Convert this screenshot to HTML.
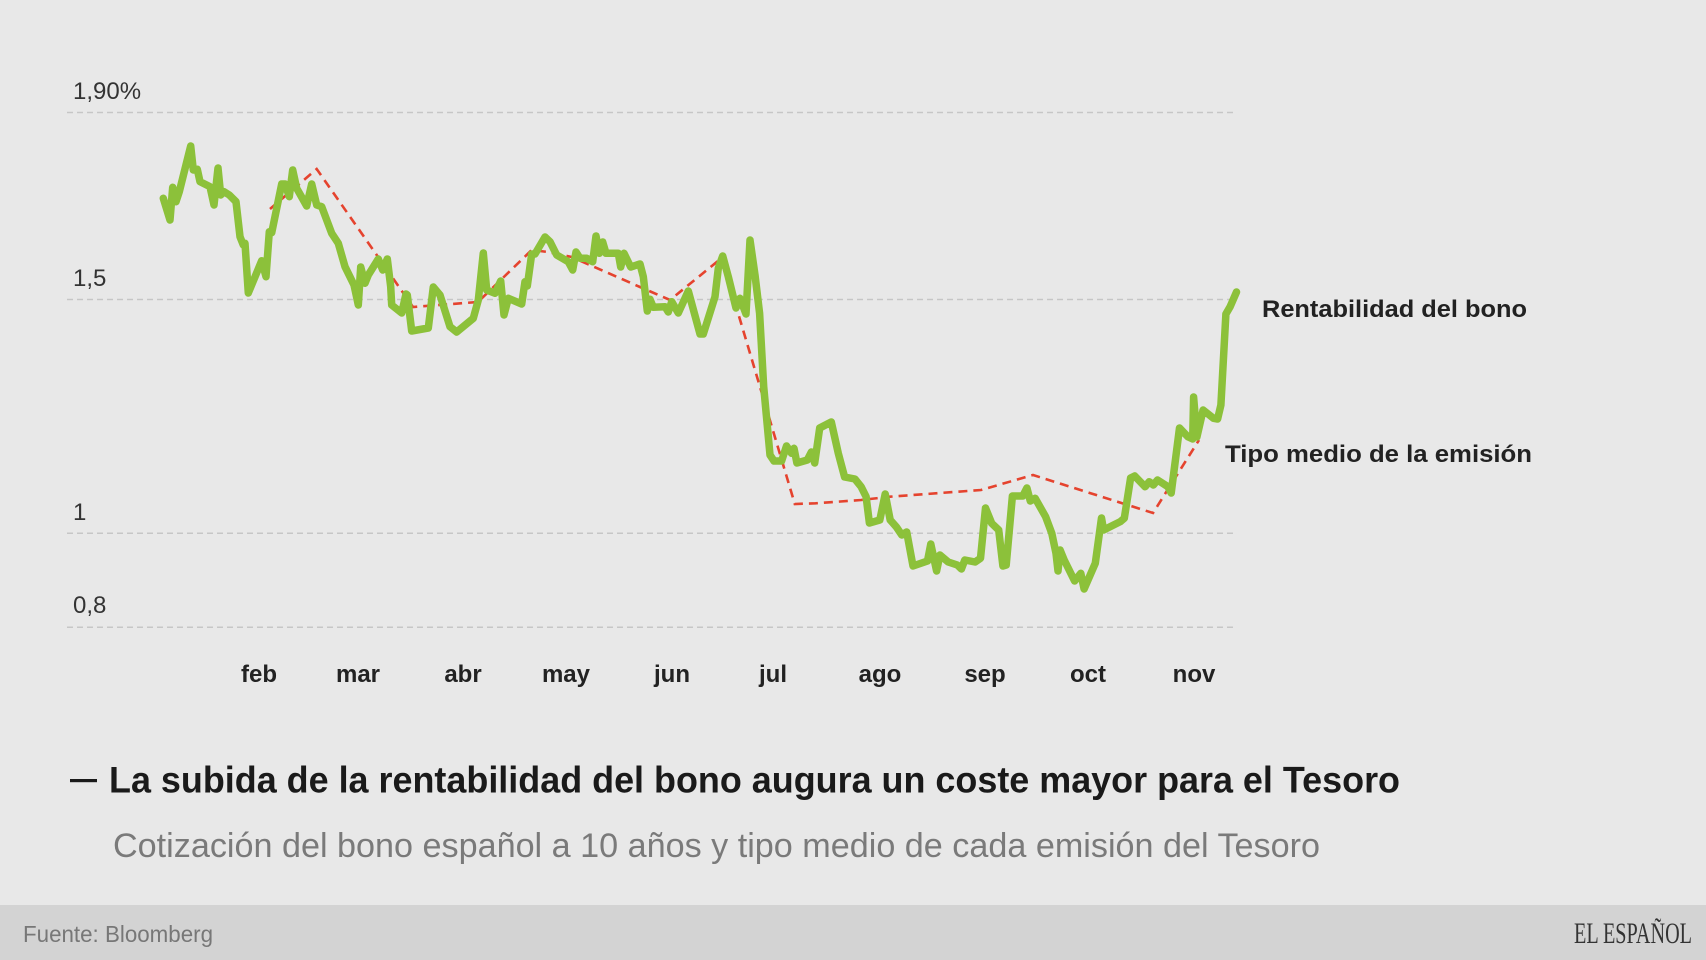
<!DOCTYPE html>
<html>
<head>
<meta charset="utf-8">
<style>
  html, body { margin: 0; padding: 0; background: #e8e8e8; }
  svg { display: block; }
</style>
</head>
<body>
<svg width="1706" height="960" viewBox="0 0 1706 960" xmlns="http://www.w3.org/2000/svg">
  <rect x="0" y="0" width="1706" height="960" fill="#e8e8e8"/>

  <!-- gridlines -->
  <g stroke="#c6c6c6" stroke-width="1.5" stroke-dasharray="6 4" fill="none">
    <line x1="67" y1="112.5" x2="1235" y2="112.5"/>
    <line x1="67" y1="299.5" x2="1235" y2="299.5"/>
    <line x1="67" y1="533.3" x2="1235" y2="533.3"/>
    <line x1="67" y1="627.3" x2="1235" y2="627.3"/>
  </g>

  <!-- y labels -->
  <g font-family="Liberation Sans, Arial, sans-serif" font-size="24" fill="#333">
    <text x="73" y="99">1,90%</text>
    <text x="73" y="286">1,5</text>
    <text x="73" y="520">1</text>
    <text x="73" y="613">0,8</text>
  </g>

  <!-- month labels -->
  <g font-family="Liberation Sans, Arial, sans-serif" font-size="24" font-weight="bold" fill="#222" text-anchor="middle">
    <text x="259" y="682">feb</text>
    <text x="358" y="682">mar</text>
    <text x="463" y="682">abr</text>
    <text x="566" y="682">may</text>
    <text x="672" y="682">jun</text>
    <text x="773" y="682">jul</text>
    <text x="880" y="682">ago</text>
    <text x="985" y="682">sep</text>
    <text x="1088" y="682">oct</text>
    <text x="1194" y="682">nov</text>
  </g>

  <!-- red dashed: tipo medio -->
  <polyline fill="none" stroke="#e5432e" stroke-width="2.6" stroke-dasharray="9 6"
    points="270,209 316.7,169 413,307 478,302 531.7,250 548,252 571.7,257 640,287 670,300 721.7,258 794.8,504 815.5,503.3 861.1,500 890,496.7 981,490 1033,475 1153,513 1199,440"/>

  <!-- green: rentabilidad -->
  <polyline fill="none" stroke="#8cc13a" stroke-width="7.5" stroke-linejoin="round" stroke-linecap="round"
    points="163.3,198.3 170,220 172.7,187.3 176,201.7 179.3,191.7 190.7,146 193.3,170 197.3,169.3 200,181.7 210,186.7 214,205 218,168 220.7,195 224,191.7 229.3,195 236,201.7 240,236.7 243.3,245 245,243.3 248.3,293 261.7,260.7 266,276.7 269.3,231.7 271.7,232.7 281.7,184 285,184 289.3,196.7 292.7,170 296.7,188.3 306.7,206 311.7,184 316.7,205 321.7,206.7 331.7,233.3 338.3,243.3 345,266.7 354,285 358.3,305 360.7,267 365,283.3 368.3,275 378.3,259 382.7,270 387.3,259 390.7,286.7 391.7,305 401.7,313 406,294 407.3,295 411.7,331 428.3,328 433.3,287 440,295 450,326.7 456.7,332 473.3,318.3 478.3,300 483.3,253 486.7,290 495,293.3 500.7,281 504,315 508.3,298.3 521.7,304 525,281.7 527.3,286 531.7,254 535,254 545,237 550,241.7 556.7,255 568.3,261.7 572.7,270 576,252 580,258.3 586.7,258.3 592.7,261.7 596,236 599.3,253.3 602.7,242 606,253.3 618.3,253.3 620.7,267 624,253.3 630.7,267 640,264 643.3,276.7 647.3,311 650,299.3 653.3,307.3 665,306.7 668.3,312 671.7,301.7 678.3,313 688.3,291 700,334 703.3,334 715,296.7 718.3,268.3 722.7,256 728.3,276.7 736,308 740,298.3 746,314 750,240 755,275 759.6,313.3 763.7,386.7 770,455 774,461 781.6,461 786.5,446 791.5,453.3 794,448.3 796.9,463 807.3,460 811.4,452 814.7,463 819.7,428 831.3,422 838.3,453.3 844.6,477 854.9,479 861.1,486.7 866.1,496.7 869.4,523 879.8,520 885.2,494 890.2,520 896.4,527 901.8,535 906.7,532 913,566 927.5,561 930.8,544 936.6,571 939.9,555 948.2,562 957.3,565 961.4,569 964.8,560 975.1,562 980.5,558.3 985.5,508 991.7,523.3 998.7,530 1002.9,566 1006.2,565 1012.4,496 1022.8,496 1026.9,488 1030.3,501 1035.2,498.3 1045.6,516.7 1051.8,533.3 1056,553.3 1058,571 1060.1,550 1064.2,560 1074.6,581 1080.8,573.3 1084.1,589 1095.3,563.3 1101.5,518 1103.6,530 1120.2,521.7 1124.3,518.3 1130.6,478 1134.7,476 1145.1,486.7 1149.2,481.7 1153.4,485 1157.5,480 1167.9,486.7 1171.2,493 1179.5,428 1187.8,436.7 1192.7,439 1193.6,397 1196.9,437 1203.1,410 1213.5,418.3 1217.6,419 1220.9,405 1225.9,314 1230.1,306.7 1236.5,292"/>

  <!-- series labels -->
  <g font-family="Liberation Sans, Arial, sans-serif" font-size="24" font-weight="bold" fill="#222">
    <text x="1262" y="317" textLength="265" lengthAdjust="spacingAndGlyphs">Rentabilidad del bono</text>
    <text x="1225" y="462" textLength="307" lengthAdjust="spacingAndGlyphs">Tipo medio de la emisión</text>
  </g>

  <!-- title -->
  <rect x="70" y="779" width="27" height="3.2" fill="#1a1a1a"/>
  <text x="109" y="792.5" font-family="Liberation Sans, Arial, sans-serif" font-size="37" font-weight="bold" fill="#1a1a1a" textLength="1291" lengthAdjust="spacingAndGlyphs">La subida de la rentabilidad del bono augura un coste mayor para el Tesoro</text>
  <text x="113" y="857" font-family="Liberation Sans, Arial, sans-serif" font-size="34" fill="#7a7a7a" textLength="1207" lengthAdjust="spacingAndGlyphs">Cotización del bono español a 10 años y tipo medio de cada emisión del Tesoro</text>

  <!-- footer -->
  <rect x="0" y="905" width="1706" height="55" fill="#d3d3d3"/>
  <text x="23" y="942" font-family="Liberation Sans, Arial, sans-serif" font-size="23" fill="#777" textLength="190" lengthAdjust="spacingAndGlyphs">Fuente: Bloomberg</text>
  <text x="1574" y="943" font-family="Liberation Serif, Times New Roman, serif" font-size="30" fill="#333" textLength="118" lengthAdjust="spacingAndGlyphs">EL ESPAÑOL</text>
</svg>
</body>
</html>
